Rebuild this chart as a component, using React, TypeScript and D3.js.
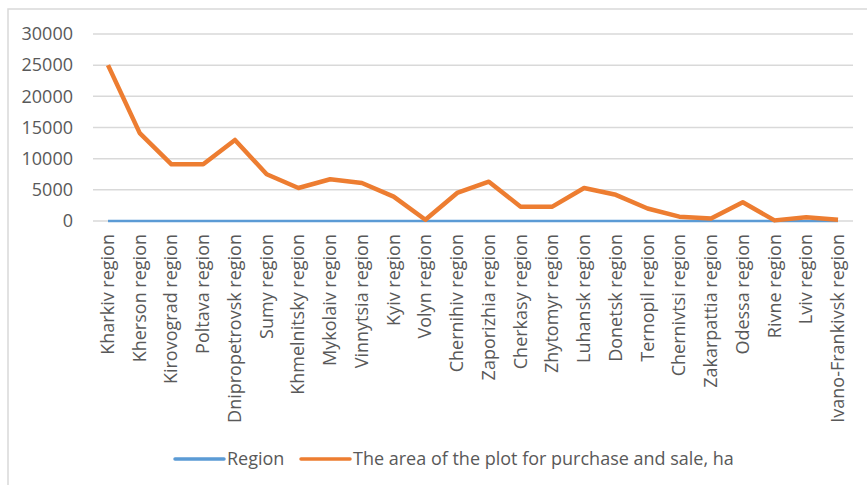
import React from "react";
import * as d3 from "d3";

const categories = [
  "Kharkiv region", "Kherson region", "Kirovograd region", "Poltava region",
  "Dnipropetrovsk region", "Sumy region", "Khmelnitsky region", "Mykolaiv region",
  "Vinnytsia region", "Kyiv region", "Volyn region", "Chernihiv region",
  "Zaporizhia region", "Cherkasy region", "Zhytomyr region", "Luhansk region",
  "Donetsk region", "Ternopil region", "Chernivtsi region", "Zakarpattia region",
  "Odessa region", "Rivne region", "Lviv region", "Ivano-Frankivsk region",
];
const areaValues = [
  25000, 14100, 9100, 9100, 13000, 7500, 5300, 6700, 6100, 3900, 200, 4500,
  6300, 2300, 2300, 5300, 4200, 2000, 700, 400, 3000, 100, 600, 200,
];
const regionValues = categories.map(() => 0);
const yTicks = [0, 5000, 10000, 15000, 20000, 25000, 30000];
const seriesNames = ["Region", "The area of the plot for purchase and sale, ha"];

const FONT = "'Open Sans', sans-serif";
const TXT = "#595959";

export default function App() {
  const W = 867, H = 485;
  const x = d3.scalePoint<string>().domain(categories).range([108, 838]);
  const y = d3.scaleLinear().domain([0, 30000]).range([221, 34]);
  const line = d3.line<number>().x((_, i) => x(categories[i])!).y((d) => y(d));

  return (
    <svg width={W} height={H} style={{ position: "absolute", left: 0, top: 0 }}>
      <rect x={0} y={0} width={W} height={H} fill="#fff" />
      <rect x={8} y={9} width={900} height={520} fill="none" stroke="#d9d9d9" strokeWidth={1.5} />
      {yTicks.map((t) => (
        <g key={t}>
          <line x1={93} x2={853} y1={y(t)} y2={y(t)} stroke="#d9d9d9" strokeWidth={1.5} />
          <text x={73} y={y(t)} dy="0.35em" textAnchor="end" fontFamily={FONT} fontSize={18} fill={TXT}>
            {t}
          </text>
        </g>
      ))}
      {categories.map((c) => (
        <text
          key={c}
          transform={`translate(${x(c)! + 6},234) rotate(-90)`}
          textAnchor="end"
          fontFamily={FONT}
          fontSize={18}
          fill={TXT}
        >
          {c}
        </text>
      ))}
      <path d={line(regionValues) || ""} fill="none" stroke="#5B9BD5" strokeWidth={2.5} />
      <path d={line(areaValues) || ""} fill="none" stroke="#ED7D31" strokeWidth={4.5} strokeLinejoin="round" />
      <g fontFamily={FONT} fontSize={18} fill={TXT}>
        <line x1={175} x2={224} y1={459} y2={459} stroke="#5B9BD5" strokeWidth={3.5} strokeLinecap="round" />
        <text x={227} y={459} dy="0.35em">{seriesNames[0]}</text>
        <line x1={301} x2={350} y1={459} y2={459} stroke="#ED7D31" strokeWidth={3.5} strokeLinecap="round" />
        <text x={353} y={459} dy="0.35em">{seriesNames[1]}</text>
      </g>
    </svg>
  );
}
